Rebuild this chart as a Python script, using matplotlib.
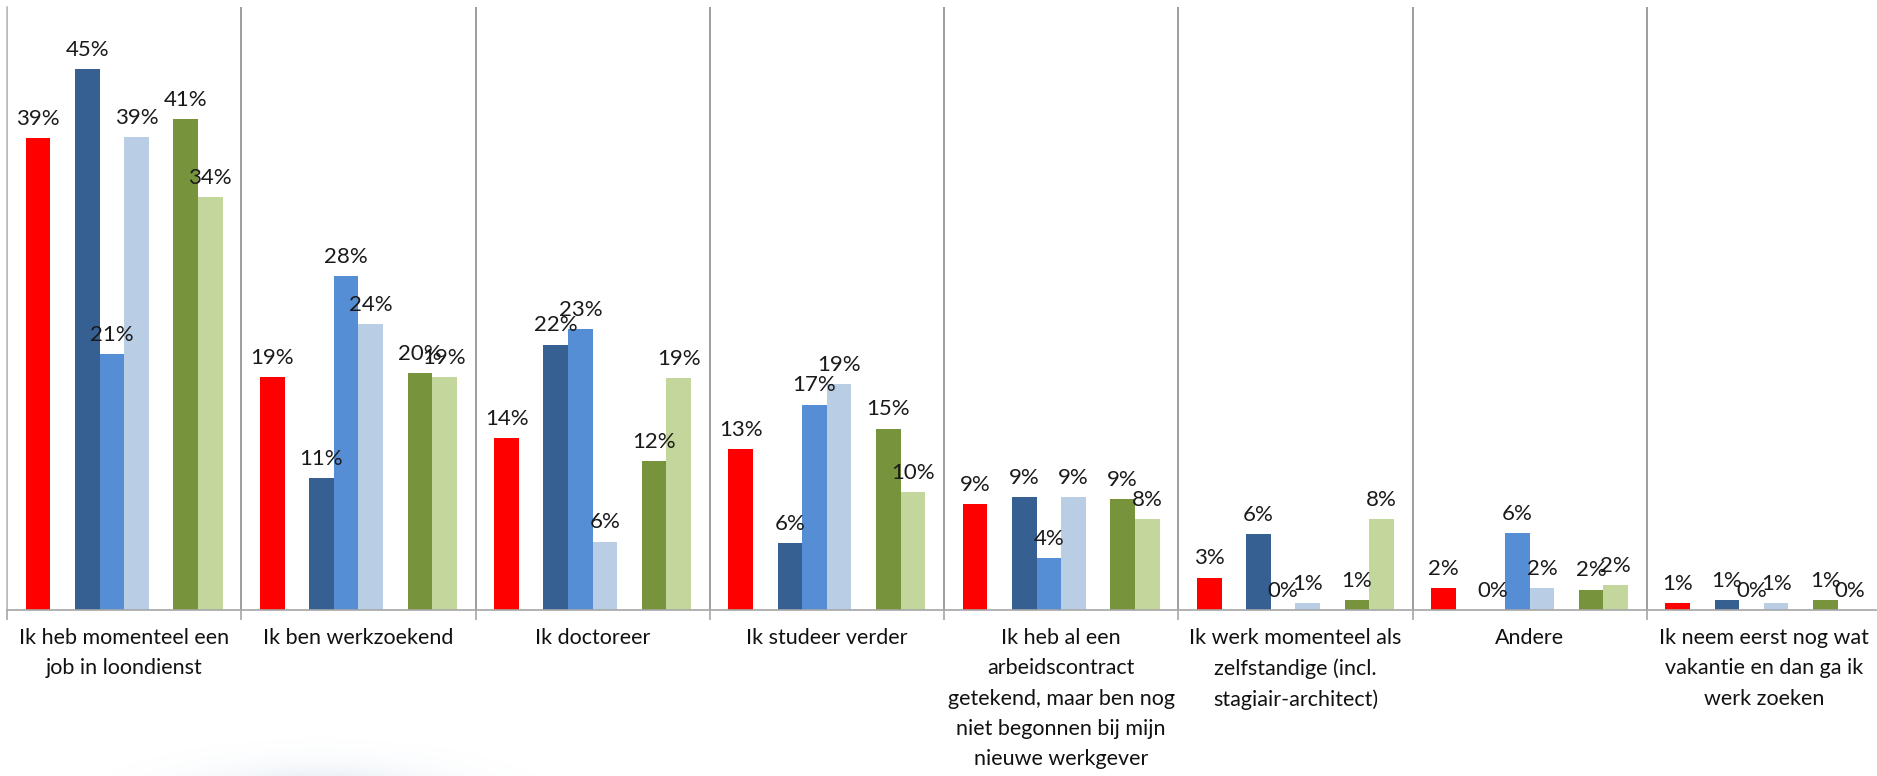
import numpy as np
import matplotlib
matplotlib.use("Agg")
import matplotlib.pyplot as plt

plt.rcParams['font.family'] = ['Lato', 'DejaVu Sans']

# categories (answers) and the six series, values in percent
categories = [
    "Ik heb momenteel een\njob in loondienst",
    "Ik ben werkzoekend",
    "Ik doctoreer",
    "Ik studeer verder",
    "Ik heb al een\narbeidscontract\ngetekend, maar ben nog\nniet begonnen bij mijn\nnieuwe werkgever",
    "Ik werk momenteel als\nzelfstandige (incl.\nstagiair-architect)",
    "Andere",
    "Ik neem eerst nog wat\nvakantie en dan ga ik\nwerk zoeken",
]
red = [39.3, 19.4, 14.3, 13.4, 8.8, 2.7, 1.8, 0.6]
dark_blue = [45.0, 11.0, 22.1, 5.6, 9.4, 6.3, 0.0, 0.8]
mid_blue = [21.3, 27.8, 23.4, 17.1, 4.3, 0.0, 6.4, 0.0]
light_blue = [39.4, 23.8, 5.7, 18.8, 9.4, 0.6, 1.8, 0.6]
dark_green = [40.9, 19.7, 12.4, 15.1, 9.2, 0.8, 1.7, 0.8]
light_green = [34.4, 19.4, 19.3, 9.8, 7.6, 7.6, 2.1, 0.0]

series = [red, dark_blue, mid_blue, light_blue, dark_green, light_green]
colors = ['#FF0000', '#376092', '#558ED5', '#B9CDE5', '#77933C', '#C3D69B']
slots = [0, 2, 3, 4, 6, 7]  # slots 1 and 5 stay empty as gaps

W, H = 1877, 776
fig = plt.figure(figsize=(W / 100, H / 100), dpi=100)

# faint blurred shadow at the bottom left
bg = fig.add_axes([0, 0, 1, 1], zorder=0)
yy, xx = np.mgrid[0:H, 0:W]
d = ((xx - 320) / 115.0) ** 2 + ((yy - 805) / 32.0) ** 2
alpha = 0.32 * np.exp(-d)
img = np.zeros((H, W, 4))
img[..., 0] = 0.50
img[..., 1] = 0.62
img[..., 2] = 0.80
img[..., 3] = alpha
bg.imshow(img, extent=[0, W, H, 0], aspect='auto')
bg.set_xlim(0, W)
bg.set_ylim(H, 0)
bg.axis('off')

ax = fig.add_axes([7 / W, (H - 610) / H, 1874 / W, 603 / H], zorder=1)
ax.patch.set_alpha(0)

n = len(categories)
x = np.arange(n)
w = 0.105
for vals, col, s in zip(series, colors, slots):
    pos = x + (s - 3.5) * w
    ax.bar(pos, vals, width=w, color=col, linewidth=0, zorder=2)
    for px, v in zip(pos, vals):
        ax.annotate(f"{v:.0f}%", (px, v), xytext=(0, 9.5), textcoords='offset points',
                    ha='center', va='baseline', fontsize=16, color='#1a1a1a', zorder=3)

ax.set_xlim(-0.5, n - 0.5)
ax.set_ylim(0, 50.2)
ax.set_yticks([])

# separators between categories
ax.set_xticks(np.arange(n) - 0.5)
ax.set_xticklabels([])
ax.tick_params(axis='x', which='major', length=7, width=1.2, color='#A6A6A6', direction='out')
ax.grid(axis='x', which='major', color='#8C8C8C', linewidth=1.2, zorder=1)

ax.set_xticks(x, minor=True)
ax.set_xticklabels(categories, minor=True, fontsize=15.5, linespacing=1.64, color='#111111')
ax.tick_params(axis='x', which='minor', length=0, pad=13)

for side in ['top', 'right']:
    ax.spines[side].set_visible(False)
ax.spines['left'].set_color('#BFBFBF')
ax.spines['left'].set_linewidth(1.2)
ax.spines['bottom'].set_color('#A6A6A6')
ax.spines['bottom'].set_linewidth(1.2)

fig.savefig("out.png", dpi=100)
